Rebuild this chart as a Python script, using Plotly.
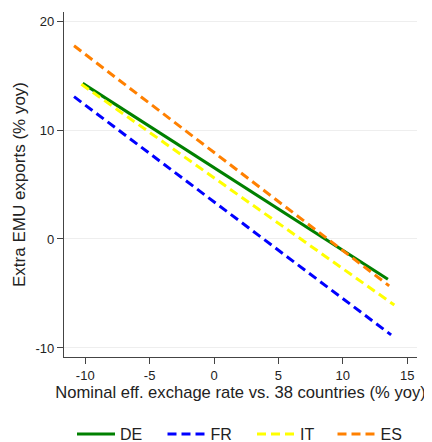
import plotly.graph_objects as go

countries = ["DE", "FR", "IT", "ES"]
x_start = [-10.2, -10.87, -10.3, -10.87]
x_end = [13.5, 13.75, 14.0, 13.6]
y_start = [14.28, 13.06, 14.2, 17.73]
y_end = [-3.7, -8.8, -6.06, -4.3]

x_ticks = [-10, -5, 0, 5, 10, 15]
x_ticktext = ["-10", "-5", "0", "5", "10", "15"]
y_ticks = [-10, 0, 10, 20]
y_ticktext = ["-10", "0", "10", "20"]

colors = ["#008000", "#0000ff", "#ffff00", "#ff8000"]
dashes = ["solid", "9px,5px", "9px,5px", "9px,5px"]
legend_names = ["legend", "legend2", "legend3", "legend4"]

# the page body has an 8px margin, so the figure is 8px smaller than the window
W, H = 424, 434
legend_x = [64, 154.5, 244, 324.5]

fig = go.Figure()
for i, c in enumerate(countries):
    fig.add_trace(go.Scatter(
        x=[x_start[i], x_end[i]], y=[y_start[i], y_end[i]],
        mode="lines", name=c, legend=legend_names[i],
        line=dict(color=colors[i], width=3, dash=dashes[i]),
    ))

legend_common = dict(orientation="h", xref="container", yref="container",
                     xanchor="left", y=1 - 426 / H, yanchor="middle",
                     font=dict(size=16), itemwidth=38, bgcolor="rgba(0,0,0,0)")
layout_legends = {}
for i, ln in enumerate(legend_names):
    layout_legends[ln] = dict(legend_common, x=legend_x[i] / W)

fig.update_layout(
    width=W, height=H,
    margin=dict(l=56, r=15, t=4, b=85),
    plot_bgcolor="white", paper_bgcolor="white",
    font=dict(family="Liberation Sans, Arial, sans-serif", color="#222"),
    showlegend=True,
    **layout_legends,
)
fig.update_xaxes(
    range=[-11.65, 15.76], tickvals=x_ticks, ticktext=x_ticktext, automargin=False,
    ticks="outside", ticklen=6, tickcolor="#444", tickfont=dict(size=13),
    showline=True, linecolor="#444", linewidth=1.2, showgrid=False, zeroline=False,
    title=dict(text="Nominal eff. exchage rate vs. 38 countries (% yoy)", font=dict(size=16.6), standoff=4),
)
fig.update_yaxes(
    range=[-10.83, 20.83], tickvals=y_ticks, ticktext=y_ticktext, automargin=False,
    ticks="outside", ticklen=6, tickcolor="#444", tickfont=dict(size=13),
    showline=True, linecolor="#444", linewidth=1.2, showgrid=True, gridcolor="#eeeeee",
    zeroline=False,
    title=dict(text="Extra EMU exports (% yoy)", font=dict(size=17), standoff=5),
)
fig.write_html("out.html")
